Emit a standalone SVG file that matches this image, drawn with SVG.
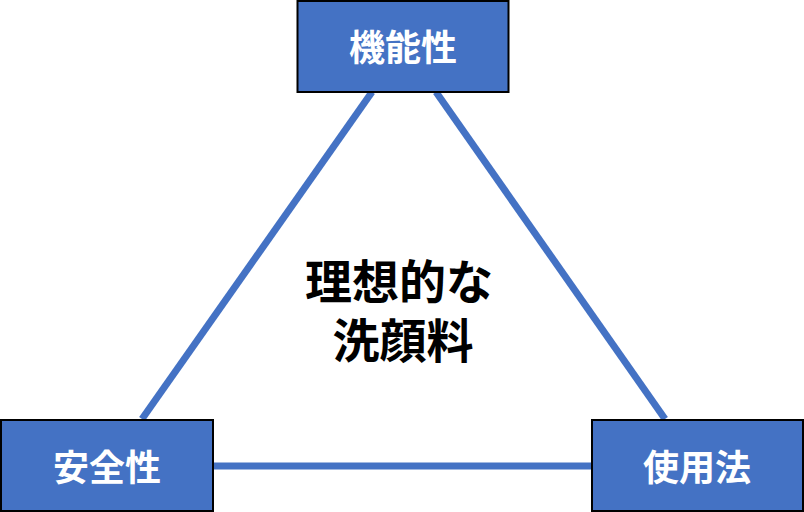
<svg xmlns="http://www.w3.org/2000/svg" width="804" height="512" viewBox="0 0 804 512">
<style>
.box{fill:#4472C4;stroke:#000;stroke-width:2}
.lbl{fill:#fff;font-family:"Noto Sans CJK JP","Noto Sans CJK SC",sans-serif;font-weight:bold;font-size:36px;text-anchor:middle;dominant-baseline:central}
.ctr{fill:#000;font-family:"Noto Sans CJK JP","Noto Sans CJK SC",sans-serif;font-weight:bold;font-size:47px;text-anchor:middle;dominant-baseline:central}
.edge{stroke:#4472C4;stroke-width:7;fill:none}
</style>
<rect width="804" height="512" fill="#fff"/>
<g id="connectors">
<line class="edge" x1="372" y1="92" x2="142" y2="419"/>
<line class="edge" x1="436" y1="92" x2="665" y2="419"/>
<line class="edge" x1="213" y1="466" x2="592" y2="466"/>
</g>
<g id="node-kinousei">
<rect class="box" x="297.5" y="1" width="211" height="91"/>
<text class="lbl" x="403" y="45">機能性</text>
</g>
<g id="node-anzensei">
<rect class="box" x="1" y="420" width="212" height="91"/>
<text class="lbl" x="107" y="465">安全性</text>
</g>
<g id="node-shiyouhou">
<rect class="box" x="592" y="420" width="211" height="91"/>
<text class="lbl" x="697" y="465">使用法</text>
</g>
<g id="center-label">
<text class="ctr"><tspan x="399" y="278">理想的な</tspan><tspan x="403" y="337">洗顔料</tspan></text>
</g>
</svg>
